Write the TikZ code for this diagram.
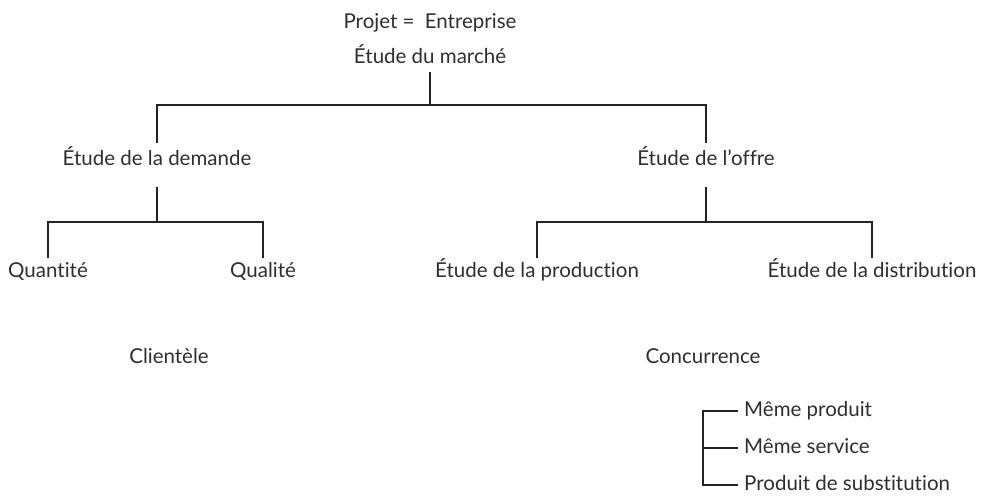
\documentclass[tikz,border=0pt]{standalone}
\usepackage{fontspec}
\setmainfont{Lato}[Ligatures=NoCommon]
\usepackage{xcolor}
\usepackage{tikz}
\definecolor{ink}{HTML}{222222}
\definecolor{txt}{HTML}{2E2E2E}
\tikzset{
  branch/.style={draw=ink, line width=1.8pt},
  lab/.style={text=txt, font=\fontsize{20.5}{24}\selectfont, inner sep=0pt,
    text height=15pt, text depth=5pt, anchor=base},
  item/.style={lab, anchor=base west, inner xsep=6pt}
}
\begin{document}
\begin{tikzpicture}[x=1pt, y=-1pt]
  \useasboundingbox (0,0) rectangle (982,496);

  % head of the tree
  \node[lab] (projet) at (430,28) {Projet =\enspace Entreprise};
  \node[lab] (marche) at (430,63) {Étude du marché};
  \coordinate (top) at (430,105);

  % demand and supply
  \node[lab] (demande) at (157,165) {Étude de la demande};
  \node[lab] (offre) at (706,165) {Étude de l’offre};
  \coordinate (jd) at (157,222);
  \coordinate (jo) at (706,222);

  \node[lab] (quant) at (48,277) {Quantité};
  \node[lab] (qual) at (263,277) {Qualité};
  \node[lab] (prod) at (537,277) {Étude de la production};
  \node[lab] (distr) at (872,277) {Étude de la distribution};

  \node[lab] (client) at (169,363) {Clientèle};
  \node[lab] (concur) at (703,363) {Concurrence};

  % competition list
  \node[item] (mprod) at (738,416) {Même produit};
  \node[item] (mserv) at (738,453) {Même service};
  \node[item] (subst) at (738,490) {Produit de substitution};

  % connectors
  \draw[branch, shorten <=4pt] (marche.south) -- (top);
  \draw[branch, shorten <=7pt, shorten >=7pt] (demande.north) |- (top) -| (offre.north);
  \draw[branch, shorten <=17pt] (demande.south) -- (jd);
  \draw[branch, shorten <=17pt] (offre.south) -- (jo);
  \draw[branch, shorten <=4pt, shorten >=4pt] (quant.north) |- (jd) -| (qual.north);
  \draw[branch, shorten <=4pt, shorten >=4pt] (prod.north) |- (jo) -| (distr.north);
  \draw[branch] (mprod.west) -- ++(-35,0) |- (subst.west);
  \draw[branch] (mserv.west) -- ++(-35,0);
\end{tikzpicture}
\end{document}
